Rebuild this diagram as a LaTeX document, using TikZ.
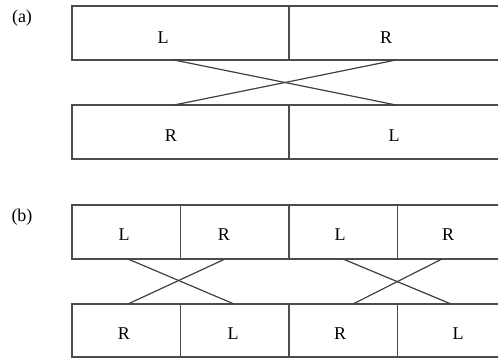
\documentclass[tikz,border=0pt]{standalone}
\usepackage{fontspec}
\setmainfont{Liberation Serif}
\usetikzlibrary{calc}
\tikzset{
	cell/.style={draw=black!70, line width=1.3pt, inner sep=0pt, outer sep=0pt},
	swap/.style={draw=black!75, line width=1.2pt},
	lbl/.style={font=\fontsize{18}{21}\selectfont, inner sep=0pt}
}

\begin{document}
\begin{tikzpicture}[x=1pt,y=-1pt]
        \useasboundingbox (0, 0) rectangle (498, 358);
        \clip (0, 0) rectangle (498, 358);
        \node[lbl] (tag_a) at (22, 18) {(a)};
        \node[cell, minimum width=217pt, minimum height=54pt] (a_top_1) at (180.5, 33) {};
        \node[cell, minimum width=217pt, minimum height=54pt] (a_top_2) at (397.5, 33) {};
        \node[cell, minimum width=217pt, minimum height=54pt] (a_bot_1) at (180.5, 132) {};
        \node[cell, minimum width=217pt, minimum height=54pt] (a_bot_2) at (397.5, 132) {};
        \node[lbl] (a_L_top) at (163, 38) {L};
        \node[lbl] (a_R_top) at (386, 38) {R};
        \node[lbl] (a_R_bot) at (171, 136) {R};
        \node[lbl] (a_L_bot) at (394, 136) {L};
        \coordinate (a_out_1) at (174, 60);
        \coordinate (a_out_2) at (396, 60);
        \coordinate (a_in_1) at (174, 105);
        \coordinate (a_in_2) at (396, 105);
        \draw[swap] (a_out_1) -- (a_in_2);
        \draw[swap] (a_out_2) -- (a_in_1);
        \node[lbl] (tag_b) at (22, 217) {(b)};
        \node[cell, minimum width=108.5pt, minimum height=54pt] (b_top_1) at (126.25, 232) {};
        \node[cell, minimum width=108.5pt, minimum height=54pt] (b_top_2) at (234.75, 232) {};
        \node[cell, minimum width=108.5pt, minimum height=54pt] (b_top_3) at (343.25, 232) {};
        \node[cell, minimum width=108.5pt, minimum height=54pt] (b_top_4) at (451.75, 232) {};
        \node[cell, minimum width=108.5pt, minimum height=53pt] (b_bot_1) at (126.25, 330.5) {};
        \node[cell, minimum width=108.5pt, minimum height=53pt] (b_bot_2) at (234.75, 330.5) {};
        \node[cell, minimum width=108.5pt, minimum height=53pt] (b_bot_3) at (343.25, 330.5) {};
        \node[cell, minimum width=108.5pt, minimum height=53pt] (b_bot_4) at (451.75, 330.5) {};
        \node[lbl] (b_L_top_1) at (124, 235) {L};
        \node[lbl] (b_R_top_1) at (224, 235) {R};
        \node[lbl] (b_L_top_2) at (340, 235) {L};
        \node[lbl] (b_R_top_2) at (448, 235) {R};
        \node[lbl] (b_R_bot_1) at (124, 334) {R};
        \node[lbl] (b_L_bot_1) at (233, 334) {L};
        \node[lbl] (b_R_bot_2) at (340, 334) {R};
        \node[lbl] (b_L_bot_2) at (458, 334) {L};
        \coordinate (b_out_1) at (128, 259);
        \coordinate (b_out_2) at (225, 259);
        \coordinate (b_out_3) at (343, 259);
        \coordinate (b_out_4) at (442, 259);
        \coordinate (b_in_1) at (128, 304);
        \coordinate (b_in_2) at (234, 304);
        \coordinate (b_in_3) at (353, 304);
        \coordinate (b_in_4) at (451, 304);
        \draw[swap] (b_out_1) -- (b_in_2);
        \draw[swap] (b_out_2) -- (b_in_1);
        \draw[swap] (b_out_3) -- (b_in_4);
        \draw[swap] (b_out_4) -- (b_in_3);
\end{tikzpicture}
\end{document}
